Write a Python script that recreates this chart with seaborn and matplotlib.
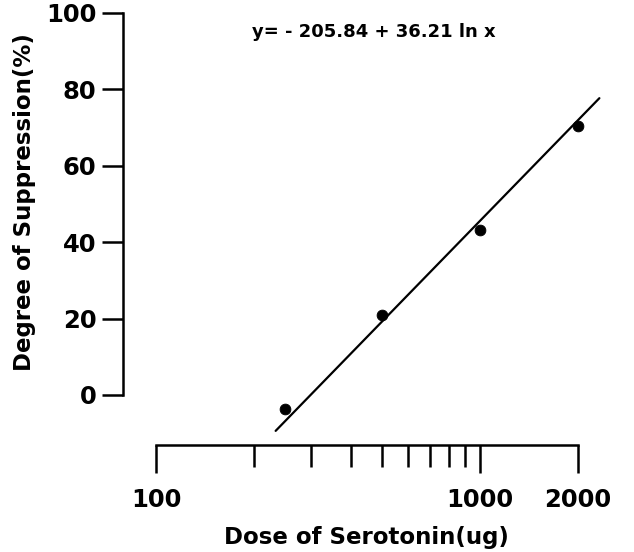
import numpy as np
import pandas as pd
import matplotlib
matplotlib.use("Agg")
import matplotlib.pyplot as plt
import seaborn as sns
from matplotlib.ticker import FixedLocator, NullFormatter

sns.set_style("ticks", {"axes.edgecolor": "black", "text.color": "black",
                        "xtick.color": "black", "ytick.color": "black",
                        "axes.labelcolor": "black"})
plt.rcParams['font.family'] = ['DejaVu Sans']

# data
dose = [250, 500, 1000, 2000]
suppression = [-3.7, 21.0, 43.2, 70.3]
fit_dose = [234, 2335]
fit_supp = [-9.4, 77.7]
x_major = [100, 1000, 2000]
x_major_labels = ["100", "1000", "2000"]
x_minor = [200, 300, 400, 500, 600, 700, 800, 900]
y_ticks = [0, 20, 40, 60, 80, 100]
equation = "y= - 205.84 + 36.21 ln x"

pts = pd.DataFrame({"dose": dose, "supp": suppression})
fit = pd.DataFrame({"dose": fit_dose, "supp": fit_supp})

fig = plt.figure(figsize=(6.34, 5.52), dpi=100)
ax = fig.add_axes([123/634, 1-445/552, (610-123)/634, (445-13)/552])

sns.lineplot(data=fit, x="dose", y="supp", ax=ax, color="black", lw=1.6)
sns.scatterplot(data=pts, x="dose", y="supp", ax=ax, color="black", s=60,
                edgecolor="black", zorder=5, clip_on=False)

ax.set_xscale("log")
ax.set_xlim(79.1, 2518)
ax.set_ylim(-13.1, 100)

ax.spines["top"].set_visible(False)
ax.spines["right"].set_visible(False)
for s in ["left", "bottom"]:
    ax.spines[s].set_linewidth(1.8)
ax.spines["left"].set_bounds(0, 100)
ax.spines["bottom"].set_bounds(100, 2000)

ax.xaxis.set_major_locator(FixedLocator(x_major))
ax.set_xticklabels(x_major_labels)
ax.xaxis.set_minor_locator(FixedLocator(x_minor))
ax.xaxis.set_minor_formatter(NullFormatter())
ax.set_yticks(y_ticks)

ax.tick_params(axis="x", which="major", length=20, width=1.8, direction="out",
               labelsize=17.5, pad=11)
ax.tick_params(axis="x", which="minor", length=16, width=1.8, direction="out")
ax.tick_params(axis="y", which="major", length=15, width=1.8, direction="out",
               labelsize=17.5, pad=4)
for lab in ax.get_xticklabels() + ax.get_yticklabels():
    lab.set_fontweight("bold")

ax.set_xlabel("Dose of Serotonin(ug)", fontsize=16.5, fontweight="bold", labelpad=10)
ax.set_ylabel("Degree of Suppression(%)", fontsize=16.5, fontweight="bold")
ax.yaxis.set_label_coords((25-123)/487, (445-202)/432)
ax.yaxis.label.set_va("center")

ax.text((374-123)/487, 0.957, equation, transform=ax.transAxes, ha="center",
        va="center", fontsize=13, fontweight="bold")

fig.savefig("out.png", dpi=100)
